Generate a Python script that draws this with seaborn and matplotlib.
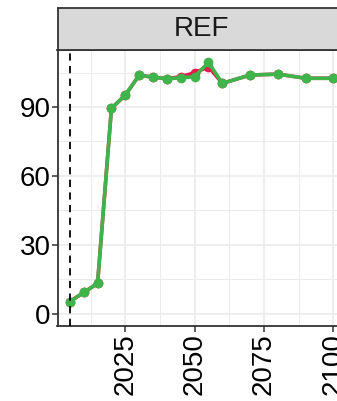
import numpy as np
import pandas as pd
import matplotlib.pyplot as plt
import seaborn as sns
from matplotlib.ticker import MultipleLocator

years = [2005, 2010, 2015, 2020, 2025, 2030, 2035, 2040, 2045, 2050, 2055, 2060, 2070, 2080, 2090, 2100]
green_vals = [5.3, 9.3, 13.2, 89.4, 95.2, 103.8, 103.0, 102.3, 102.7, 103.2, 109.4, 100.3, 103.9, 104.3, 102.5, 102.5]
red_vals = [5.3, 9.3, 13.2, 89.4, 95.2, 103.8, 103.0, 102.3, 103.2, 104.9, 107.5, 100.3, 103.9, 104.3, 102.5, 102.5]
panel_label = "REF"
start_year = 2005

df = pd.concat([
    pd.DataFrame({'year': years, 'value': red_vals, 'series': 'red'}),
    pd.DataFrame({'year': years, 'value': green_vals, 'series': 'green'}),
])

sns.set_theme(style="white")
plt.rcParams['font.family'] = ['Liberation Sans', 'DejaVu Sans']

fig = plt.figure(figsize=(3.37, 4.01), dpi=100)
W, H = 337, 401
left, right, bottom, top = 57.5, 360, 326, 50
px_per_year = 2.773
x0 = 2025 - (125.3 - left) / px_per_year
x1 = x0 + (right - left) / px_per_year
ax = fig.add_axes([left / W, (H - bottom) / H, (right - left) / W, (bottom - top) / H])

sns.lineplot(data=df, x='year', y='value', hue='series',
             palette={'red': '#E8194B', 'green': '#3DB54A'},
             marker='o', markersize=7, markeredgewidth=0, linewidth=2.6,
             legend=False, ax=ax)
ax.axvline(start_year, color='black', linestyle=(0, (4, 3)), linewidth=1.3, zorder=5)

ax.set_xlim(x0, x1)
ax.set_ylim(-5.3, 114.8)
ax.xaxis.set_major_locator(MultipleLocator(25))
ax.xaxis.set_minor_locator(MultipleLocator(12.5))
ax.yaxis.set_major_locator(MultipleLocator(30))
ax.yaxis.set_minor_locator(MultipleLocator(15))
ax.grid(which='major', color='#EBEBEB', linewidth=1.2)
ax.grid(which='minor', color='#EBEBEB', linewidth=0.7)
ax.set_axisbelow(True)
ax.set_xlabel('')
ax.set_ylabel('')
ax.tick_params(axis='both', which='major', length=4, width=1.1, color='#333333',
               labelsize=20, labelcolor='black', pad=1, bottom=True, left=True)
ax.tick_params(axis='both', which='minor', length=0)
plt.setp(ax.get_xticklabels(), rotation=90)
for s in ax.spines.values():
    s.set_color('#333333')
    s.set_linewidth(1.3)

# facet strip
strip = fig.add_axes([left / W, (H - top) / H, (right - left) / W, (top - 8) / H])
strip.set_facecolor('#D9D9D9')
strip.set_xticks([])
strip.set_yticks([])
for s in strip.spines.values():
    s.set_color('#333333')
    s.set_linewidth(1.3)
strip.text((201 - left) / (right - left), 0.5, panel_label, transform=strip.transAxes,
           ha='center', va='center', fontsize=20, color='#1A1A1A')

fig.savefig('out.png', dpi=100)
